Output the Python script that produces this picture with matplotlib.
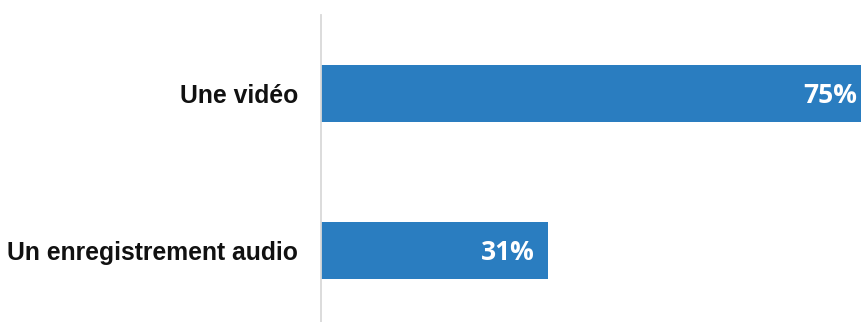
import matplotlib
matplotlib.use("Agg")
import matplotlib.pyplot as plt
from matplotlib.transforms import offset_copy

categories = ["Une vidéo", "Un enregistrement audio"]
values = [75, 31]
value_labels = ["75%", "31%"]

W, H = 861, 322
fig = plt.figure(figsize=(W / 100, H / 100), dpi=100)
# axes in pixel terms: x0 at 321, 1% = 7.32 px; y: top 15, spacing 157 px per category
x0 = 321
px_per_unit = 7.32
xmax = 100
top_px = 15
bottom_px = top_px + 2 * 157
ax = fig.add_axes([x0 / W, (H - bottom_px) / H, xmax * px_per_unit / W, (bottom_px - top_px) / H])

color = "#2a7dc0"
ypos = list(range(len(categories)))
ax.barh(ypos, values, height=0.357, color=color, zorder=2)
ax.set_xlim(0, xmax)
ax.set_ylim(1.5, -0.5)

for spine in ["top", "right", "bottom"]:
    ax.spines[spine].set_visible(False)
ax.spines["left"].set_color("#d9d9d9")
ax.spines["left"].set_linewidth(1.3)
ax.set_xticks([])
ax.set_yticks(ypos)
ax.set_yticklabels(categories, fontsize=17.8, fontweight="bold",
                   fontfamily=["Liberation Sans", "DejaVu Sans"], color="#111111")
ax.tick_params(axis="y", length=0, pad=16.5)

for y, v, lab in zip(ypos, values, value_labels):
    tr = offset_copy(ax.transData, fig=fig, x=-13, y=-2, units="dots")
    ax.text(v, y, lab, transform=tr, ha="right", va="center", color="white",
            fontsize=19, fontweight="bold", fontfamily=["Open Sans", "DejaVu Sans"], zorder=3)

fig.savefig("out.png", dpi=100)
